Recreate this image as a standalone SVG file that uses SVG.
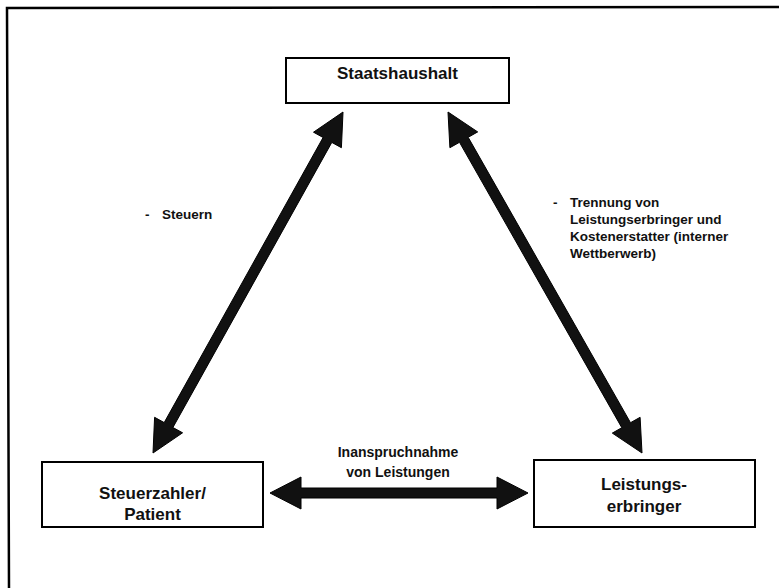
<svg xmlns="http://www.w3.org/2000/svg" width="779" height="588" viewBox="0 0 779 588">
<style>
.box{fill:#fff;stroke:#000;stroke-width:2}
.nt{font-family:"Liberation Sans",Arial,sans-serif;font-weight:bold;font-size:17px;fill:#111;text-anchor:middle}
.lb{font-family:"Liberation Sans",Arial,sans-serif;font-weight:bold;font-size:13.5px;fill:#111}
.lbc{font-family:"Liberation Sans",Arial,sans-serif;font-weight:bold;font-size:14px;fill:#111;text-anchor:middle}
.arr{fill:#111;stroke:#000;stroke-width:1;stroke-linejoin:miter}
</style>
<rect width="779" height="588" fill="#fff"/>
<polyline points="9,588 7,8 779,7" fill="none" stroke="#000" stroke-width="2.5"/>
<g id="connectors">
<polygon class="arr" points="343,112 341.4,147.7 331.8,142.4 172.9,427.5 182.6,432.8 153,453 154.6,417.3 164.2,422.6 323.1,137.5 313.5,132.2"/>
<polygon class="arr" points="448,112 477.7,131.9 468.2,137.3 630.5,422.7 640.1,417.3 642,453 612.3,433.1 621.8,427.7 459.5,142.3 449.9,147.7"/>
<polygon class="arr" points="270,493 301,477 301,488 497,488 497,477 528,493 497,509 497,498 301,498 301,509"/>
</g>
<g id="label-steuern">
<text class="lb" x="145" y="219">-</text>
<text class="lb" x="162" y="219">Steuern</text>
</g>
<g id="label-trennung">
<text class="lb" x="553" y="207">-</text>
<text class="lb" x="570" y="207">Trennung von</text>
<text class="lb" x="570" y="224">Leistungserbringer und</text>
<text class="lb" x="570" y="241">Kostenerstatter (interner</text>
<text class="lb" x="570" y="258">Wettberwerb)</text>
</g>
<g id="label-inanspruchnahme">
<text class="lbc" x="398" y="457">Inanspruchnahme</text>
<text class="lbc" x="398" y="477">von Leistungen</text>
</g>
<g id="node-staatshaushalt">
<rect class="box" x="286" y="58" width="223" height="45"/>
<text class="nt" x="397.5" y="79">Staatshaushalt</text>
</g>
<g id="node-steuerzahler">
<rect class="box" x="42" y="462" width="221" height="65"/>
<text class="nt" x="152.5" y="499">Steuerzahler/</text>
<text class="nt" x="152.5" y="520">Patient</text>
</g>
<g id="node-leistungserbringer">
<rect class="box" x="534" y="460" width="221" height="67"/>
<text class="nt" x="644" y="490">Leistungs-</text>
<text class="nt" x="644" y="512">erbringer</text>
</g>
</svg>
